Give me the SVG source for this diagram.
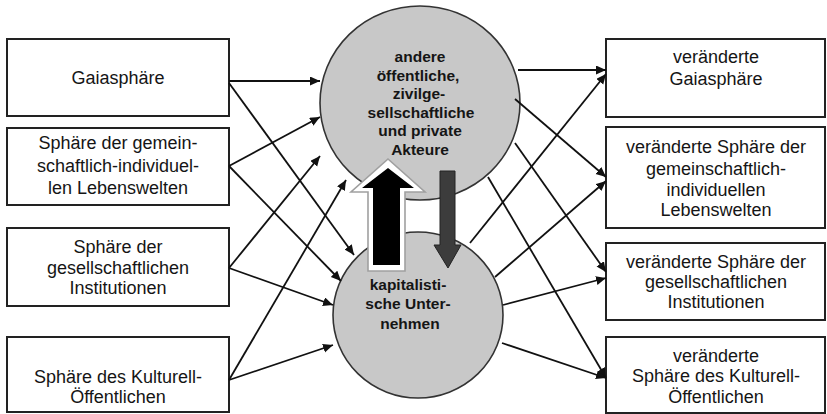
<svg xmlns="http://www.w3.org/2000/svg" width="827" height="414" viewBox="0 0 827 414">
  <defs>
    <marker id="head" markerUnits="userSpaceOnUse" markerWidth="11" markerHeight="10" refX="10" refY="4.5" orient="auto">
      <path d="M0,0 L10,4.5 L0,9 z" fill="#111"/>
    </marker>
  </defs>
  <style>
    .box { fill: #fff; stroke: #222; stroke-width: 2; }
    .sphere { fill: #c8c8c8; stroke: #333; stroke-width: 1.6; }
    .lbl { font-family: "Liberation Sans", Arial, sans-serif; font-size: 18px; fill: #151515; text-anchor: middle; }
    .bold { font-family: "Liberation Sans", Arial, sans-serif; font-size: 15.5px; font-weight: bold; fill: #151515; text-anchor: middle; }
    .link { stroke: #111; stroke-width: 1.8; fill: none; marker-end: url(#head); }
  </style>
  <rect width="827" height="414" fill="#fff"/>

  <!-- actors in the middle -->
  <g id="akteure">
    <ellipse class="sphere" cx="420" cy="103" rx="100" ry="97"/>
    <text class="bold" x="420" y="62">andere</text>
    <text class="bold" x="418" y="81">öffentliche,</text>
    <text class="bold" x="419" y="99">zivilge-</text>
    <text class="bold" x="421" y="118">sellschaftliche</text>
    <text class="bold" x="420" y="136">und private</text>
    <text class="bold" x="420" y="155">Akteure</text>
  </g>
  <g id="unternehmen">
    <ellipse class="sphere" cx="418" cy="315" rx="85" ry="83"/>
    <text class="bold" x="408" y="290">kapitalisti-</text>
    <text class="bold" x="408" y="309">sche Unter-</text>
    <text class="bold" x="410" y="329">nehmen</text>
  </g>

  <!-- input spheres -->
  <g id="in-gaia">
    <rect class="box" x="7" y="39" width="222" height="77"/>
    <text class="lbl" x="118" y="84">Gaiasphäre</text>
  </g>
  <g id="in-lebenswelten">
    <rect class="box" x="7" y="128" width="222" height="77"/>
    <text class="lbl" x="118" y="149">Sphäre der gemein-</text>
    <text class="lbl" x="118" y="172">schaftlich-individuel-</text>
    <text class="lbl" x="118" y="194">len Lebenswelten</text>
  </g>
  <g id="in-institutionen">
    <rect class="box" x="7" y="228" width="222" height="78"/>
    <text class="lbl" x="118" y="253">Sphäre der</text>
    <text class="lbl" x="118" y="274">gesellschaftlichen</text>
    <text class="lbl" x="118" y="294">Institutionen</text>
  </g>
  <g id="in-kultur">
    <rect class="box" x="7" y="337" width="222" height="75"/>
    <text class="lbl" x="118" y="383">Sphäre des Kulturell-</text>
    <text class="lbl" x="118" y="403">Öffentlichen</text>
  </g>

  <!-- changed spheres -->
  <g id="out-gaia">
    <rect class="box" x="606" y="39" width="219" height="78"/>
    <text class="lbl" x="716" y="63">veränderte</text>
    <text class="lbl" x="716" y="85">Gaiasphäre</text>
  </g>
  <g id="out-lebenswelten">
    <rect class="box" x="606" y="127" width="219" height="101"/>
    <text class="lbl" x="716" y="153">veränderte Sphäre der</text>
    <text class="lbl" x="716" y="175">gemeinschaftlich-</text>
    <text class="lbl" x="716" y="196">individuellen</text>
    <text class="lbl" x="716" y="216">Lebenswelten</text>
  </g>
  <g id="out-institutionen">
    <rect class="box" x="606" y="243" width="219" height="77"/>
    <text class="lbl" x="716" y="268">veränderte Sphäre der</text>
    <text class="lbl" x="716" y="288">gesellschaftlichen</text>
    <text class="lbl" x="716" y="308">Institutionen</text>
  </g>
  <g id="out-kultur">
    <rect class="box" x="606" y="337" width="219" height="76"/>
    <text class="lbl" x="716" y="362">veränderte</text>
    <text class="lbl" x="716" y="382">Sphäre des Kulturell-</text>
    <text class="lbl" x="716" y="403">Öffentlichen</text>
  </g>

  <!-- connectors -->
  <g id="connectors">
    <line class="link" x1="229" y1="81" x2="320" y2="81"/>
    <line class="link" x1="229" y1="83" x2="354" y2="255"/>
    <line class="link" x1="229" y1="166" x2="320" y2="117"/>
    <line class="link" x1="229" y1="166" x2="341" y2="281"/>
    <line class="link" x1="229" y1="268" x2="320" y2="156"/>
    <line class="link" x1="229" y1="268" x2="333" y2="305"/>
    <line class="link" x1="229" y1="380" x2="346" y2="180"/>
    <line class="link" x1="229" y1="380" x2="333" y2="345"/>

    <line class="link" x1="518" y1="70" x2="606" y2="70"/>
    <line class="link" x1="515" y1="99" x2="606" y2="177"/>
    <line class="link" x1="515" y1="143" x2="606" y2="272"/>
    <line class="link" x1="488" y1="177" x2="606" y2="378"/>
    <line class="link" x1="470" y1="243" x2="606" y2="74"/>
    <line class="link" x1="495" y1="277" x2="606" y2="181"/>
    <line class="link" x1="503" y1="305" x2="606" y2="278"/>
    <line class="link" x1="502" y1="343" x2="606" y2="378"/>

    <!-- exchange between enterprises and other actors -->
    <polygon points="388,159 425,192 405,192 405,271 368,271 368,192 351,192" fill="#fff" stroke="#a0a0a0" stroke-width="1.6"/>
    <polygon points="388,168 414,188 400,188 400,265 373,265 373,188 362,188" fill="#000"/>
    <polygon points="440,171 455,171 455,245 461,245 448,268 434,245 440,245" fill="#3c3c3c" stroke="#222" stroke-width="1"/>
  </g>
</svg>
